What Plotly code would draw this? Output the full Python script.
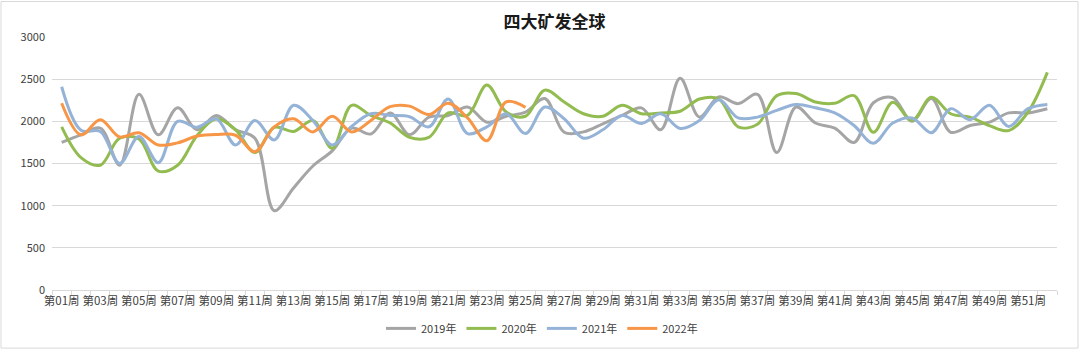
import plotly.graph_objects as go

weeks = [f"第{i:02d}周" for i in range(1, 53)]
tick_text = [w if i % 2 == 0 else "" for i, w in enumerate(weeks)]

y2019 = [1750, 1840, 1920, 1480, 2320, 1840, 2160, 1900, 2070, 1900,
         1800, 940, 1210, 1470, 1650, 1920, 1850, 2100, 1840, 2050,
         2070, 2170, 1990, 2060, 2110, 2270, 1870, 1875, 1970, 2070,
         2160, 1900, 2510, 2050, 2290, 2210, 2320, 1630, 2170, 1980,
         1920, 1750, 2220, 2280, 2000, 2270, 1870, 1950, 1990, 2100,
         2100, 2150]
y2020 = [1935, 1570, 1480, 1800, 1790, 1410, 1480, 1830, 2030, 1900,
         1630, 1930, 1880, 2010, 1680, 2190, 2070, 1980, 1810, 1810,
         2100, 2070, 2430, 2110, 2060, 2370, 2230, 2090, 2060, 2190,
         2090, 2100, 2120, 2265, 2265, 1935, 1965, 2305, 2330, 2230,
         2215, 2305, 1870, 2225, 2010, 2285, 2090, 2050, 1950, 1890,
         2110, 2580]
y2021 = [2410, 1895, 1880, 1500, 1820, 1510, 2000, 1930, 2030, 1720,
         2010, 1780, 2190, 2010, 1720, 1940, 2090, 2070, 2055, 1935,
         2265, 1855, 1935, 2090, 1855, 2170, 2030, 1800, 1900, 2070,
         1975, 2090, 1915, 2010, 2255, 2040, 2050, 2130, 2200, 2160,
         2100, 1950, 1740, 1980, 2040, 1865, 2150, 2020, 2190, 1940,
         2150, 2200]
y2022 = [2215, 1840, 2020, 1815, 1865, 1720, 1745, 1825, 1845, 1835,
         1640, 1935, 2030, 1875, 2060, 1875, 2010, 2175, 2180, 2080,
         2215, 2040, 1770, 2230, 2165]

series = [("2019年", y2019, "#A5A5A5"),
          ("2020年", y2020, "#92BB50"),
          ("2021年", y2021, "#95B3D7"),
          ("2022年", y2022, "#F79646")]

FONT = "Noto Sans CJK SC"

fig = go.Figure()
for name, vals, color in series:
    fig.add_trace(go.Scatter(
        x=weeks[:len(vals)], y=vals, name=name, mode="lines",
        line=dict(color=color, width=3, shape="spline", smoothing=1.0),
    ))

L, R, T, B = 52, 23, 37, 61
W, H = 1080, 355
pw, ph = W - L - R, H - T - B

fig.update_layout(
    width=W, height=H,
    margin=dict(l=L, r=R, t=T, b=B),
    paper_bgcolor="white", plot_bgcolor="white",
    font=dict(family=FONT, size=11, color="#404040"),
    title=dict(text="四大矿发全球", x=0.5, xref="paper", xanchor="center",
               y=1 - 22 / H, yref="container", yanchor="middle",
               font=dict(family=FONT, size=17, color="#1a1a1a", weight="bold")),
    showlegend=True,
    legend=dict(orientation="h", x=(542 - L) / pw, xanchor="center",
                y=(H - B - 333) / ph, yanchor="middle",
                font=dict(family=FONT, size=11, color="#404040"),
                bgcolor="rgba(0,0,0,0)"),
    xaxis=dict(type="category", categoryorder="array", categoryarray=weeks,
               tickvals=weeks, ticktext=tick_text, tickangle=0,
               tickson="boundaries", ticks="outside", ticklen=4,
               tickcolor="#d9d9d9", showline=True, linecolor="#d9d9d9",
               showgrid=False, range=[-0.5, 51.5], automargin=False,
               tickfont=dict(family=FONT, size=11.5, color="#404040")),
    yaxis=dict(range=[0, 3000], dtick=500, showgrid=True,
               gridcolor="#d9d9d9", gridwidth=1, zeroline=False,
               showline=False, ticks="", ticklabelstandoff=6, automargin=False,
               tickfont=dict(family=FONT, size=11, color="#404040")),
    shapes=[dict(type="rect", xref="paper", yref="paper",
                 x0=(1 - L) / pw, x1=(W - 2 - L) / pw,
                 y0=(H - B - (H - 2)) / ph, y1=(H - B - 1) / ph,
                 line=dict(color="#d9d9d9", width=1), layer="below")],
)

fig.write_html("out.html",
               config={"displayModeBar": False},
               post_script="document.body.style.margin='0';document.body.style.overflow='hidden';")
